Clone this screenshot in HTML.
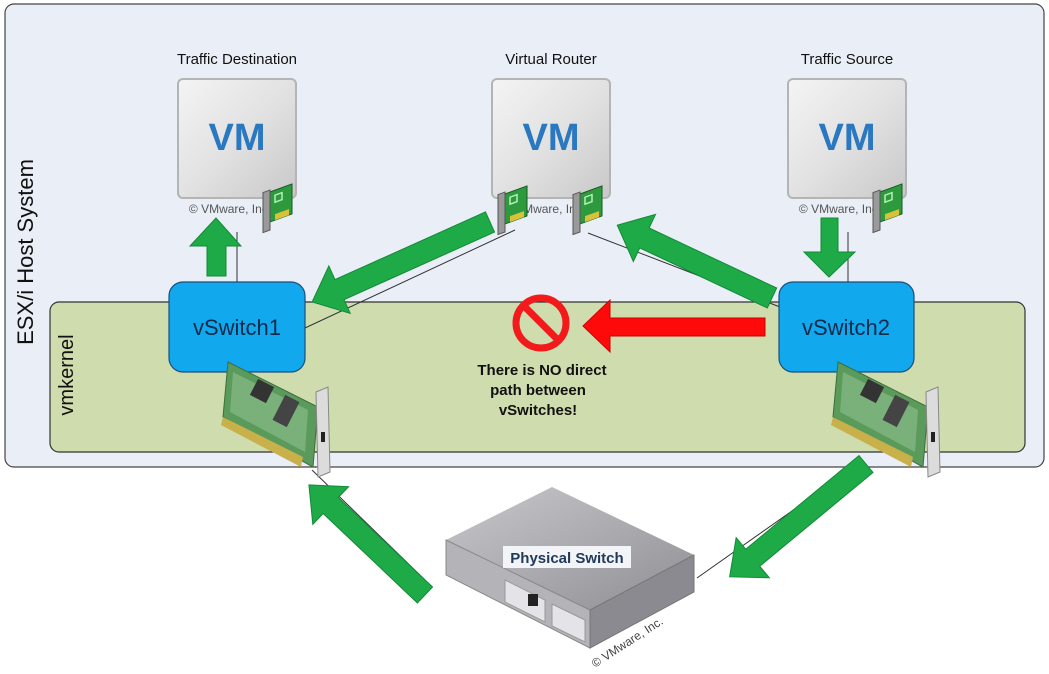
<!DOCTYPE html>
<html><head><meta charset="utf-8"><style>
html,body{margin:0;padding:0;background:#fff;}
svg{display:block;font-family:"Liberation Sans",Arial,sans-serif;}
</style></head><body>
<svg width="1049" height="674" viewBox="0 0 1049 674" xmlns="http://www.w3.org/2000/svg">
<defs>
<linearGradient id="vmg" x1="0" y1="0" x2="1" y2="1">
<stop offset="0" stop-color="#f4f4f4"/><stop offset="0.5" stop-color="#e2e2e2"/><stop offset="1" stop-color="#c8c8c8"/>
</linearGradient>
<linearGradient id="swtop" x1="0" y1="0" x2="1" y2="1">
<stop offset="0" stop-color="#c8c8cc"/><stop offset="1" stop-color="#8e8e94"/>
</linearGradient>
<g id="nic">
<rect x="0" y="0" width="22" height="30" fill="#2e9a3e" stroke="#155a20" stroke-width="1"/>
<rect x="5" y="5" width="7" height="7" fill="none" stroke="#b6f0b6" stroke-width="1.5"/>
<rect x="5" y="24" width="14" height="6" fill="#d8c23a"/>
<rect x="-7" y="-2" width="7" height="40" fill="#9a9a9a" stroke="#555" stroke-width="1"/>
</g>
<g id="bignic">
<polygon points="0,0 90,45 85,105 -5,55" fill="#5a9a5a" stroke="#3d6e3d"/>
<polygon points="5,10 80,48 77,90 2,50" fill="#7ab07a"/>
<rect x="25" y="20" width="18" height="18" fill="#333" transform="rotate(27 34 29)"/>
<rect x="50" y="35" width="16" height="28" fill="#444" transform="rotate(27 58 49)"/>
<polygon points="-5,55 75,95 73,105 -7,63" fill="#c8b04a"/>
<polygon points="88,30 100,25 102,110 90,115" fill="#dcdcdc" stroke="#888"/>
<rect x="93" y="70" width="4" height="10" fill="#222"/>
</g>
</defs>

<rect x="5" y="4" width="1039" height="463" rx="9" fill="#e9eef7" stroke="#444" stroke-width="1.2"/>
<rect x="50" y="302" width="975" height="150" rx="9" fill="#cfdcae" stroke="#333" stroke-width="1.2"/>
<text transform="translate(33,252) rotate(-90)" text-anchor="middle" font-size="22" fill="#111">ESX/i Host System</text>
<text transform="translate(73,375) rotate(-90)" text-anchor="middle" font-size="20" fill="#111">vmkernel</text>

<text x="237" y="64" text-anchor="middle" font-size="15" fill="#111">Traffic Destination</text>
<text x="551" y="64" text-anchor="middle" font-size="15" fill="#111">Virtual Router</text>
<text x="847" y="64" text-anchor="middle" font-size="15" fill="#111">Traffic Source</text>

<g>
<rect x="178" y="79" width="118" height="119" rx="5" fill="url(#vmg)" stroke="#b4b4b4" stroke-width="2"/>
<text x="237" y="150" text-anchor="middle" font-size="38" font-weight="bold" fill="#2a78c0">VM</text>
<text x="230" y="213" text-anchor="middle" font-size="12" fill="#555">© VMware, Inc.</text>
<rect x="492" y="79" width="118" height="119" rx="5" fill="url(#vmg)" stroke="#b4b4b4" stroke-width="2"/>
<text x="551" y="150" text-anchor="middle" font-size="38" font-weight="bold" fill="#2a78c0">VM</text>
<text x="544" y="213" text-anchor="middle" font-size="12" fill="#555">© VMware, Inc.</text>
<rect x="788" y="79" width="118" height="119" rx="5" fill="url(#vmg)" stroke="#b4b4b4" stroke-width="2"/>
<text x="847" y="150" text-anchor="middle" font-size="38" font-weight="bold" fill="#2a78c0">VM</text>
<text x="840" y="213" text-anchor="middle" font-size="12" fill="#555">© VMware, Inc.</text>
</g>
<use href="#nic" transform="translate(270,192) skewY(-20)"/>
<use href="#nic" transform="translate(505,194) skewY(-20)"/>
<use href="#nic" transform="translate(580,194) skewY(-20)"/>
<use href="#nic" transform="translate(880,192) skewY(-20)"/>

<g stroke="#333" stroke-width="1" fill="none">
<line x1="237" y1="232" x2="237" y2="282"/>
<line x1="515" y1="230" x2="305" y2="328"/>
<line x1="588" y1="233" x2="780" y2="307"/>
<line x1="848" y1="232" x2="848" y2="282"/>
<line x1="312" y1="470" x2="425" y2="580"/>
<line x1="697" y1="578" x2="850" y2="470"/>
</g>

<g fill="#1faa48" stroke="#128a35" stroke-width="1">
<polygon points="207,276 226,276 226,246 241,246 216,218 190,246 207,246"/>
<polygon points="821,218 838,218 838,252 855,252 829,277 804,252 821,252"/>
<polygon transform="translate(490,222) rotate(155.8)" points="0,-11 165,-11 165,-26 195,0 165,26 165,11 0,11"/>
<polygon transform="translate(772,298) rotate(205.2)" points="0,-11 141,-11 141,-26 171,0 141,26 141,11 0,11"/>
<polygon transform="translate(425,595) rotate(223.5)" points="0,-11 130,-11 130,-26 160,0 130,26 130,11 0,11"/>
<polygon transform="translate(866,464) rotate(140.4)" points="0,-11 147,-11 147,-26 177,0 147,26 147,11 0,11"/>
</g>

<rect x="169" y="282" width="136" height="90" rx="14" fill="#12a8ee" stroke="#1a4f7a" stroke-width="1.2"/>
<text x="237" y="335" text-anchor="middle" font-size="22" fill="#0d2a4a">vSwitch1</text>
<rect x="779" y="282" width="135" height="90" rx="14" fill="#12a8ee" stroke="#1a4f7a" stroke-width="1.2"/>
<text x="846" y="335" text-anchor="middle" font-size="22" fill="#0d2a4a">vSwitch2</text>

<use href="#bignic" transform="translate(228,362)"/>
<use href="#bignic" transform="translate(838,362)"/>

<polygon points="765,318 765,336 610,336 610,352 583,326 610,300 610,318" fill="#ff0a0a" stroke="#c00" stroke-width="1"/>
<circle cx="541" cy="323" r="25" fill="none" stroke="#f21a1a" stroke-width="7"/>
<line x1="524" y1="306" x2="558" y2="340" stroke="#f21a1a" stroke-width="7"/>
<g font-size="15" font-weight="bold" fill="#111" text-anchor="middle">
<text x="542" y="375">There is NO direct</text>
<text x="538" y="395">path between</text>
<text x="538" y="415">vSwitches!</text>
</g>

<polygon points="446,540 552,487 694,555 590,610" fill="url(#swtop)"/>
<polygon points="446,540 590,610 590,648 446,575" fill="#b4b4b8" stroke="#888"/>
<polygon points="590,610 694,555 694,592 590,648" fill="#8a8a90" stroke="#777"/>
<polygon points="505,580 545,600 545,622 505,602" fill="#e4e4e8" stroke="#999"/>
<polygon points="552,604 585,620 585,642 552,626" fill="#e4e4e8" stroke="#999"/>
<rect x="528" y="594" width="10" height="12" fill="#222"/>
<rect x="503" y="546" width="128" height="22" fill="#f2f4f8"/>
<text x="567" y="563" text-anchor="middle" font-size="15" font-weight="bold" fill="#223a5a">Physical Switch</text>
<text transform="translate(595,668) rotate(-33)" font-size="12" fill="#444">© VMware, Inc.</text>
</svg>
</body></html>
